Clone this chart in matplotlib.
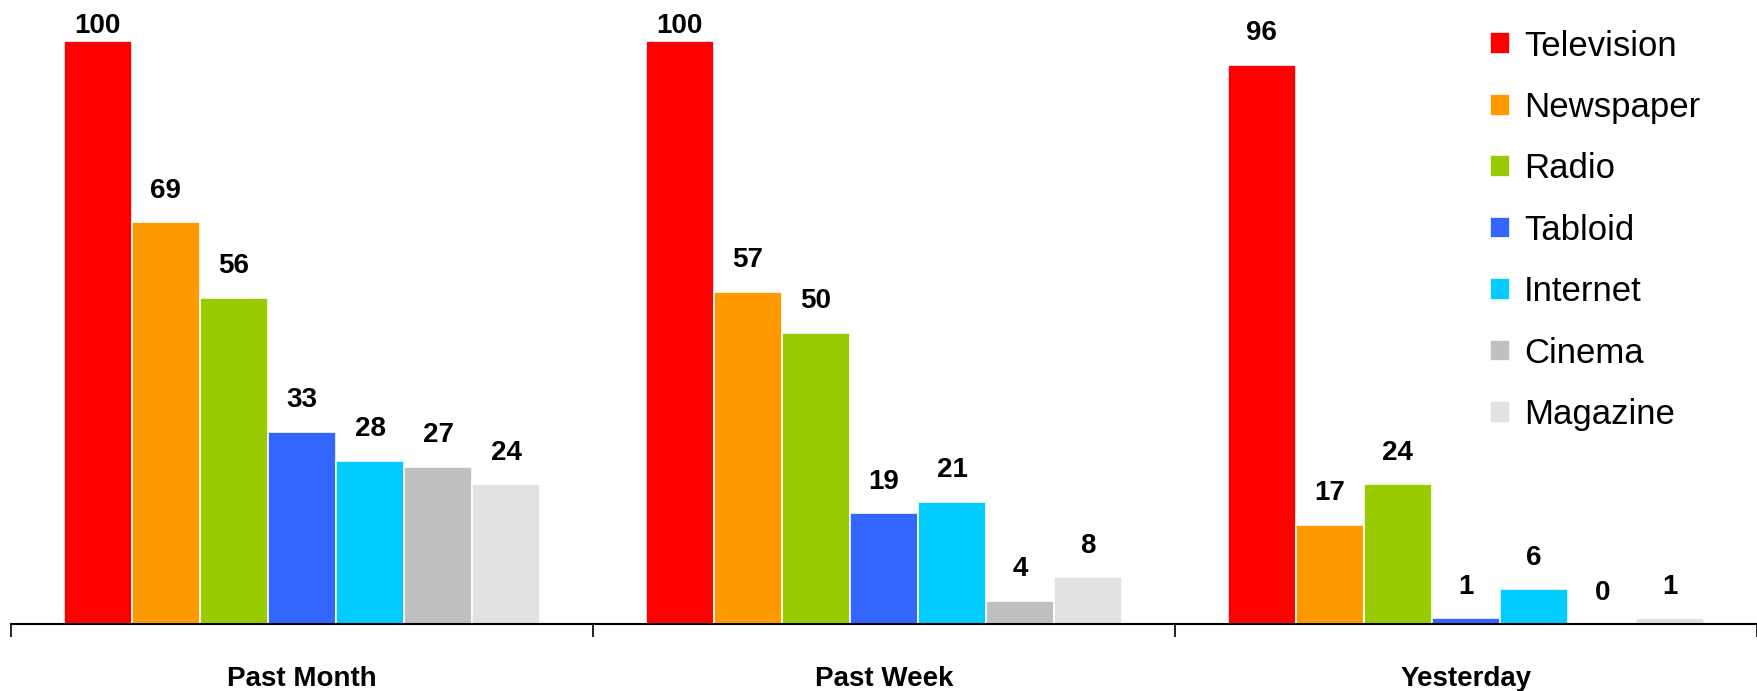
import numpy as np
import matplotlib
matplotlib.use("Agg")
import matplotlib.pyplot as plt

periods = ["Past Month", "Past Week", "Yesterday"]
media = ["Television", "Newspaper", "Radio", "Tabloid", "Internet", "Cinema", "Magazine"]
colors = ["#FF0000", "#FF9900", "#99CC00", "#3366FF", "#00CCFF", "#C0C0C0", "#E2E2E2"]

television = [100, 100, 96]
newspaper = [69, 57, 17]
radio = [56, 50, 24]
tabloid = [33, 19, 1]
internet = [28, 21, 6]
cinema = [27, 4, 0]
magazine = [24, 8, 1]
series = [television, newspaper, radio, tabloid, internet, cinema, magazine]

plt.rcParams["font.family"] = ["Liberation Sans", "DejaVu Sans"]

fig = plt.figure(figsize=(17.57, 6.91), dpi=100)
ax = fig.add_axes([11 / 1757, 67 / 691, 1 - 11 / 1757, 624 / 691])

x = np.arange(len(periods))
width = 0.117
offsets = (np.arange(len(media)) - (len(media) - 1) / 2) * width
ymax = 107.1

for vals, name, col, off in zip(series, media, colors, offsets):
    bars = ax.bar(x + off, vals, width, color=col, edgecolor="white",
                  linewidth=1.2, label=name)
    for b, v in zip(bars, vals):
        # labels sit above the bar, but are kept inside the plot at the top
        ax.text(b.get_x() + b.get_width() / 2, min(v + 4.2, ymax - 5.6), f"{v}",
                ha="center", va="baseline", fontsize=20, fontweight="bold")

ax.set_xlim(-0.5, 2.5)
ax.set_ylim(0, ymax)

for s in ["top", "right", "left"]:
    ax.spines[s].set_visible(False)
ax.spines["bottom"].set_linewidth(1.5)
ax.set_yticks([])

ax.set_xticks([-0.5, 0.5, 1.5, 2.5])
ax.set_xticklabels([])
ax.tick_params(axis="x", which="major", length=9, width=1.2, direction="out")
ax.set_xticks(x, minor=True)
ax.set_xticklabels(periods, minor=True, fontsize=20, fontweight="bold")
ax.tick_params(axis="x", which="minor", length=0, pad=30)

ax.legend(loc="upper left", bbox_to_anchor=(1490 / 1757, 1 - 29.5 / 691),
          bbox_transform=fig.transFigure, frameon=False, fontsize=25,
          handlelength=0.58, handleheight=0.58, handletextpad=0.4,
          labelspacing=0.82, borderpad=0, borderaxespad=0)

fig.savefig("out.png", dpi=100)
